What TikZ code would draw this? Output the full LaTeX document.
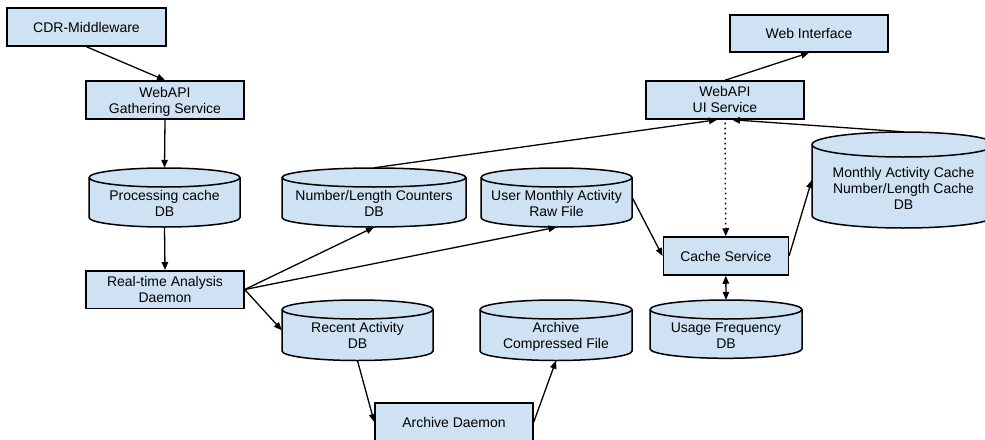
\documentclass[tikz,border=0pt]{standalone}
\usepackage{fontspec}
\setmainfont{Liberation Sans}
\usetikzlibrary{arrows.meta}
\definecolor{boxblue}{HTML}{CFE2F3}
\definecolor{ink}{HTML}{000000}
\newcommand\lbfont{\fontsize{14}{16}\selectfont}
\newcommand\tx[2]{\raisebox{-#1pt}[0pt][0pt]{\begin{tabular}[b]{@{}c@{}}#2\end{tabular}}}
\newcommand\dbshape[5]{%
  \filldraw[dbline] (#1,#2+#5) -- (#1,#4-#5)
    arc[start angle=180,end angle=0,x radius={(#3-#1)/2},y radius=#5]
    -- (#3,#2+#5)
    arc[start angle=0,end angle=-180,x radius={(#3-#1)/2},y radius=#5] -- cycle;
  \draw[dbline,fill=none] (#1,#2+#5)
    arc[start angle=180,end angle=0,x radius={(#3-#1)/2},y radius=#5];
}
\tikzset{
  box/.style 2 args={draw=ink, fill=boxblue, line width=1.5pt, minimum width=#1pt, minimum height=#2pt, inner sep=0pt, font=\lbfont},
  dbbox/.style 2 args={minimum width=#1pt, minimum height=#2pt, inner sep=0pt, font=\lbfont},
  dbline/.style={draw=ink, fill=boxblue, line width=1.5pt},
  flow/.style={draw=ink, line width=1.3pt, -{Triangle[length=8pt,width=6.5pt]}},
  flowtwo/.style={flow, {Triangle[length=8pt,width=6.5pt]}-{Triangle[length=8pt,width=6.5pt]}},
  dotflow/.style={flow, dash pattern=on 1.6pt off 3.4pt, line width=1.5pt}
}
\begin{document}
\begin{tikzpicture}[x=1pt,y=1pt,yscale=-1]
\useasboundingbox (0,0) rectangle (985,439);
% boxes
\node[box={159}{38}] (cdr) at (86.5,27) {\tx{5.7}{CDR-Middleware}};
\node[box={158}{38}] (gather) at (165,100) {\tx{13.3}{WebAPI\\Gathering Service}};
\node[box={158}{37.5}] (rt) at (165,289.5) {\tx{13.2}{Real-time Analysis\\Daemon}};
\node[box={158}{37}] (web) at (809,33.5) {\tx{4.8}{Web Interface}};
\node[box={158}{38}] (ui) at (725,100) {\tx{12.7}{WebAPI\\UI Service}};
\node[box={125}{38}] (cs) at (725.8,256) {\tx{5.7}{Cache Service}};
\node[box={158}{38}] (ad) at (454,422) {\tx{5.3}{Archive Daemon}};
% databases
\dbshape{89}{168}{240}{227}{9.5}
\node[dbbox={151}{59}] (proc) at (164.5,197.5) {\tx{18.5}{Processing cache\\DB}};
\dbshape{282}{168}{466}{227}{9.5}
\node[dbbox={184}{59}] (nl) at (374,197.5) {\tx{18.5}{Number/Length Counters\\DB}};
\dbshape{481}{168}{632}{227}{9.5}
\node[dbbox={151}{59}] (uma) at (556.5,197.5) {\tx{18.5}{User Monthly Activity\\Raw File}};
\dbshape{282}{300}{433}{360.5}{9.5}
\node[dbbox={151}{60.5}] (ra) at (357.5,330.25) {\tx{18}{Recent Activity\\DB}};
\dbshape{480}{300}{632}{360.5}{9.5}
\node[dbbox={152}{60.5}] (acf) at (556,330.25) {\tx{18}{Archive\\Compressed File}};
\dbshape{650}{300}{802}{358.3}{9.5}
\node[dbbox={152}{58.3}] (uf) at (726,329.15) {\tx{19.2}{Usage Frequency\\DB}};
\dbshape{812}{132}{995}{228}{12.5}
\node[dbbox={183}{96}] (mc) at (903.5,180) {\tx{29}{Monthly Activity Cache\\Number/Length Cache\\DB}};
% connectors
\draw[flow] (cdr.south) -- (gather.north);
\draw[flow] (gather.south) -- (proc.north);
\draw[flow] (proc.south) -- (rt.north);
\draw[flow] (rt.east) -- (nl.south);
\draw[flow] (rt.east) -- (uma.south);
\draw[flow] (rt.east) -- (ra.west);
\draw[flow] (ra.south) -- (ad.west);
\draw[flow] (ad.east) -- (acf.south);
\draw[flow] (nl.north) -- ([xshift=-8pt]ui.south);
\draw[flow] (mc.north) -- ([xshift=7pt]ui.south);
\draw[dotflow, shorten <=3pt] (ui.south) -- (cs.north);
\draw[flow] (ui.north) -- (web.south);
\draw[flow] (uma.east) -- (cs.west);
\draw[flow] (cs.east) -- (mc.west);
\draw[flowtwo] (cs.south) -- (uf.north);
\end{tikzpicture}
\end{document}
